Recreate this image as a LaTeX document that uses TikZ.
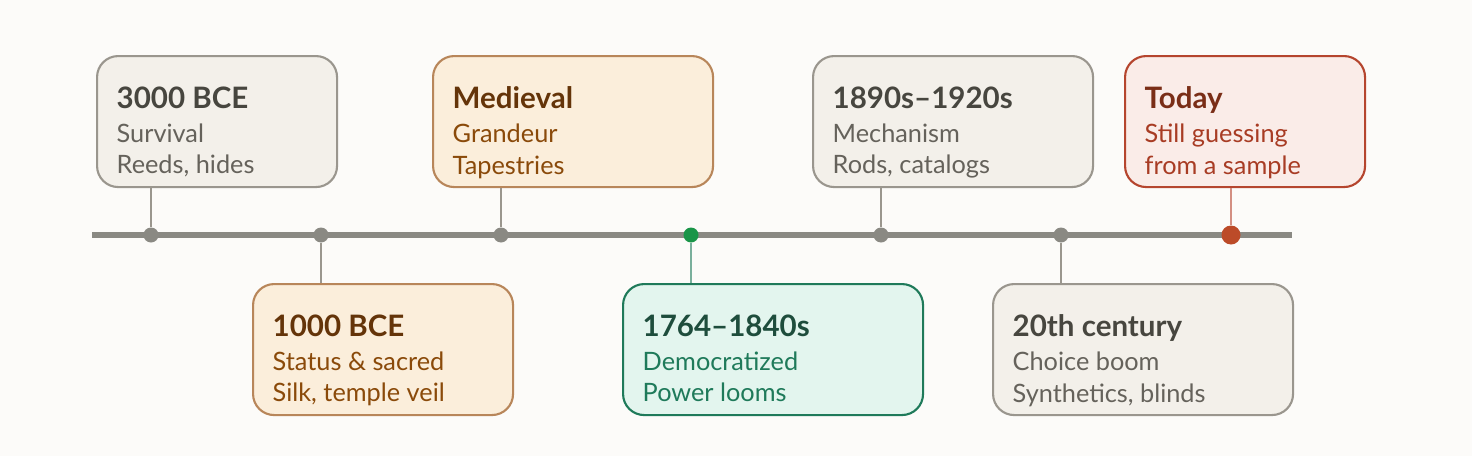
\documentclass[tikz,border=0pt]{standalone}
\usepackage{fontspec}
\setmainfont{Lato}
\usepackage{tikz}
\usetikzlibrary{calc,positioning}
\definecolor{bgc}{HTML}{FCFBF9}
\definecolor{grayfill}{HTML}{F3F0EA}\definecolor{grayline}{HTML}{9A968E}
\definecolor{graytitle}{HTML}{47463F}\definecolor{graybody}{HTML}{65625B}
\definecolor{orfill}{HTML}{FBEEDB}\definecolor{orline}{HTML}{B8865A}
\definecolor{ortitle}{HTML}{643409}\definecolor{orbody}{HTML}{8A4A0A}
\definecolor{grfill}{HTML}{E3F5EE}\definecolor{grline}{HTML}{1F7A5A}
\definecolor{grtitle}{HTML}{1E4D3C}\definecolor{grbody}{HTML}{1F7A5A}
\definecolor{rdfill}{HTML}{FAECE8}\definecolor{rdline}{HTML}{B5452E}
\definecolor{rdtitle}{HTML}{7A2E17}\definecolor{rdbody}{HTML}{A83C24}
\definecolor{axis}{HTML}{8A8983}
\tikzset{
  box/.style={draw=#1line, fill=#1fill, rounded corners=6pt, line width=0.6pt, anchor=north west, inner sep=0pt},
  txt/.style={anchor=north west, inner sep=0pt, align=left, font=\fontsize{7.2}{9}\selectfont, text=#1body},
  dot/.style={circle, inner sep=0pt, minimum size=#1},
  stem/.style={line width=0.6pt}
}
\newcommand{\era}[8]{% name, x, y, w, colour, title, line1, line2
  \node[box=#5, minimum width=#4cm, minimum height=1.31cm] (#1) at (#2,#3) {};
  \node[txt=#5] (#1t) at ($(#1.north west)+(0.2,-0.31)$)
    {{\fontsize{8.4}{9}\selectfont\bfseries\color{#5title}#6}\\[0.6pt]#7\\#8};
}
\begin{document}
\begin{tikzpicture}
  \fill[bgc] (0,0) rectangle (14.72,-4.56);
  \useasboundingbox (0,0) rectangle (14.72,-4.56);
  %% Boxes
  \era{bce3}{0.96}{-0.55}{2.40}{gray}{3000 BCE}{Survival}{Reeds, hides}
  \era{bce1}{2.52}{-2.83}{2.60}{or}{1000 BCE}{Status \& sacred}{Silk, temple veil}
  \era{medi}{4.32}{-0.55}{2.80}{or}{Medieval}{Grandeur}{Tapestries}
  \era{indu}{6.22}{-2.83}{3.00}{gr}{1764–1840s}{Democratized}{Power looms}
  \era{mech}{8.12}{-0.55}{2.80}{gray}{1890s–1920s}{Mechanism}{Rods, catalogs}
  \era{cent}{9.92}{-2.83}{3.00}{gray}{20th century}{Choice boom}{Synthetics, blinds}
  \era{tday}{11.24}{-0.55}{2.40}{rd}{Today}{Still guessing}{from a sample}
  %% Axis
  \coordinate (ls) at (0.92,-2.35);
  \coordinate (le) at (12.92,-2.35);
  \draw[axis, line width=1.6pt] (ls) -- (le);
  %% Dots and stems
  \node[dot=0.15cm, fill=axis] (d1) at (1.51,-2.35) {};
  \node[dot=0.15cm, fill=axis] (d2) at (3.21,-2.35) {};
  \node[dot=0.15cm, fill=axis] (d3) at (5.01,-2.35) {};
  \node[dot=0.15cm, fill=grline!80!green] (d4) at (6.91,-2.35) {};
  \node[dot=0.15cm, fill=axis] (d5) at (8.81,-2.35) {};
  \node[dot=0.15cm, fill=axis] (d6) at (10.61,-2.35) {};
  \node[dot=0.19cm, fill=rdline!90!orange] (d7) at (12.31,-2.35) {};
  \draw[stem, grayline] (d1) -- (d1 |- bce3.south);
  \draw[stem, grayline] (d2) -- (d2 |- bce1.north);
  \draw[stem, grayline] (d3) -- (d3 |- medi.south);
  \draw[stem, grline!60] (d4) -- (d4 |- indu.north);
  \draw[stem, grayline] (d5) -- (d5 |- mech.south);
  \draw[stem, grayline] (d6) -- (d6 |- cent.north);
  \draw[stem, rdline!60] (d7) -- (d7 |- tday.south);
\end{tikzpicture}
\end{document}
